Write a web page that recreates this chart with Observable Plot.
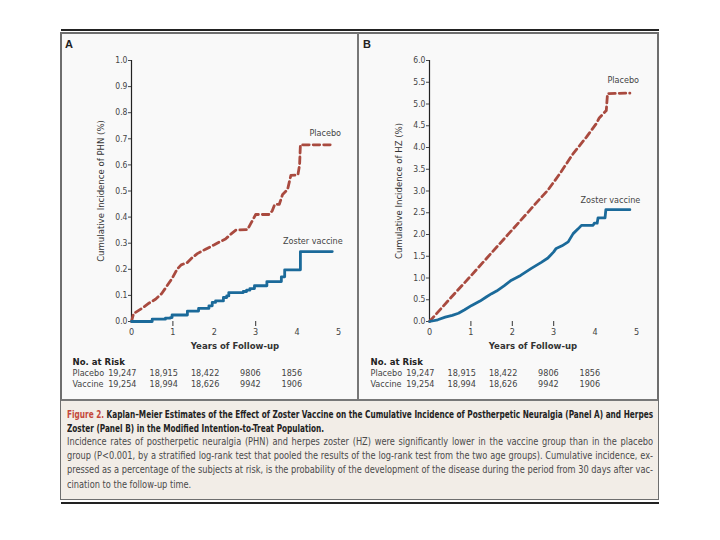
<!DOCTYPE html>
<html>
<head>
<meta charset="utf-8">
<script src="https://cdn.jsdelivr.net/npm/d3@7"></script>
<script src="https://cdn.jsdelivr.net/npm/@observablehq/plot@0.6"></script>
<style>
  html, body { margin: 0; padding: 0; background: #fff; width: 720px; height: 540px; overflow: hidden; }
  body { position: relative; font-family: "Liberation Sans Narrow", "DejaVu Sans Condensed", "Liberation Sans", sans-serif; }
  .abs { position: absolute; }
  #topline { left: 61px; top: 29px; width: 598px; height: 1.5px; background: #222; }
  #botline { left: 61px; top: 502px; width: 598px; height: 1.5px; background: #222; }
  #frame { left: 60px; top: 32px; width: 599px; height: 468px; box-sizing: border-box; border: 2px solid #6e6e6e; background: #f9f9f9; }
  #divider { left: 357px; top: 33px; width: 2px; height: 367px; background: #777; }
  #caption { left: 61px; top: 399px; width: 597px; height: 100px; box-sizing: border-box; border-top: 2px solid #777; background: #f2ede7; }
  .letter { font-family: "Liberation Sans", Arial, sans-serif; font-weight: bold; font-size: 11px; color: #222; }
  .cline { position: absolute; left: 67px; white-space: nowrap; text-align: justify; text-align-last: justify; font-size: 10.5px; line-height: 12px; transform-origin: 0 0; }
  .cline.last { text-align-last: left; }
  .title { font-weight: bold; color: #222; }
  .body { color: #4a4a4a; }
  .fig { color: #c4473a; }
  .panel { position: absolute; top: 34px; }
</style>
</head>
<body>
<div id="topline" class="abs"></div>
<div id="frame" class="abs"></div>
<div id="divider" class="abs"></div>
<div id="caption" class="abs"></div>
<div id="botline" class="abs"></div>
<div class="abs letter" style="left:65px; top:38px;">A</div>
<div class="abs letter" style="left:363px; top:38px;">B</div>
<div id="panelA" class="panel" style="left:62px;"></div>
<div id="panelB" class="panel" style="left:360px;"></div>
<div id="captext"></div>
<script>
// ---- Data ----
const years = [0, 1, 2, 3, 4, 5];
const tickMarksA = [1, 3];
const tickMarksB = [1, 2, 3];
const yTicksA = [0, 0.1, 0.2, 0.3, 0.4, 0.5, 0.6, 0.7, 0.8, 0.9, 1.0];
const yTicksB = [0, 0.5, 1.0, 1.5, 2.0, 2.5, 3.0, 3.5, 4.0, 4.5, 5.0, 5.5, 6.0];

// Panel A: PHN, placebo (dashed)
const placeboA_t = [0, 0.05, 0.25, 0.42, 0.58, 0.73, 0.86, 0.98, 1.1, 1.2, 1.35, 1.47, 1.59, 1.79, 1.99, 2.15, 2.27, 2.4, 2.52, 2.8, 2.88, 3.0, 3.32, 3.4, 3.46, 3.57, 3.65, 3.77, 3.85, 4.02, 4.06, 4.08, 4.85];
const placeboA_v = [0, 0.03, 0.05, 0.07, 0.085, 0.107, 0.137, 0.165, 0.2, 0.217, 0.226, 0.245, 0.26, 0.277, 0.293, 0.307, 0.316, 0.335, 0.35, 0.352, 0.375, 0.41, 0.41, 0.424, 0.449, 0.449, 0.487, 0.506, 0.56, 0.562, 0.60, 0.677, 0.677];
// Panel A: PHN, vaccine (solid, step)
const vaccineA_t = [0, 0.5, 0.82, 0.94, 0.98, 1.35, 1.62, 1.87, 1.95, 2.03, 2.22, 2.3, 2.35, 2.7, 2.78, 2.86, 2.97, 3.27, 3.62, 3.7, 4.08, 4.85];
const vaccineA_v = [0, 0.009, 0.013, 0.015, 0.025, 0.04, 0.05, 0.06, 0.073, 0.079, 0.092, 0.098, 0.111, 0.115, 0.12, 0.126, 0.137, 0.153, 0.171, 0.198, 0.268, 0.268];

// Panel B: HZ, placebo (dashed)
const placeboB_t = [0, 0.5, 1.0, 1.5, 2.0, 2.35, 2.6, 2.86, 3.15, 3.47, 3.79, 4.03, 4.1, 4.27, 4.3, 4.84];
const placeboB_v = [0, 0.53, 1.05, 1.58, 2.11, 2.48, 2.75, 3.02, 3.40, 3.86, 4.24, 4.55, 4.68, 4.85, 5.24, 5.25];
// Panel B: HZ, vaccine (solid)
const vaccineB_t = [0, 0.2, 0.38, 0.55, 0.7, 0.85, 1.02, 1.22, 1.38, 1.5, 1.62, 1.8, 1.98, 2.2, 2.46, 2.7, 2.86, 3.0, 3.06, 3.2, 3.35, 3.47, 3.59, 3.67, 3.95, 3.98, 4.05, 4.07, 4.24, 4.26, 4.84];
const vaccineB_v = [0, 0.04, 0.1, 0.14, 0.19, 0.27, 0.37, 0.47, 0.57, 0.64, 0.7, 0.82, 0.95, 1.06, 1.22, 1.36, 1.46, 1.6, 1.68, 1.74, 1.83, 2.02, 2.13, 2.21, 2.21, 2.26, 2.26, 2.38, 2.38, 2.57, 2.57];

// Number at risk
const riskYears = [0, 1, 2, 3, 4];
const riskPlacebo = ["19,247", "18,915", "18,422", "9806", "1856"];
const riskVaccine = ["19,254", "18,994", "18,626", "9942", "1906"];

// Series labels
const labelTextA = ["Placebo", "Zoster vaccine"];
const labelXA = [4.68, 4.38];
const labelYA = [0.722, 0.308];
const labelTextB = ["Placebo", "Zoster vaccine"];
const labelXB = [4.68, 4.37];
const labelYB = [5.54, 2.8];

const yLabelA = "Cumulative Incidence of PHN (%)";
const yLabelB = "Cumulative Incidence of HZ (%)";
const xLabel = "Years of Follow-up";

// ---- Styles ----
const PLACEBO = "#a94a3f";
const VACCINE = "#1b6a9a";
const FONT = "'Liberation Sans Narrow', 'DejaVu Sans Condensed', 'Liberation Sans', sans-serif";

const zip = (t, v) => t.map((x, i) => ({t: x, v: v[i]}));

function panel(cfg) {
  const riskRows = riskYears.map((y, i) => ({year: y, p: riskPlacebo[i], v: riskVaccine[i]}));
  const labels = cfg.labelText.map((s, i) => ({text: s, x: cfg.labelX[i], y: cfg.labelY[i]}));
  return Plot.plot({
    width: 296,
    height: 364,
    marginLeft: 69,
    marginRight: 20,
    marginTop: 26,
    marginBottom: 77,
    style: {fontFamily: FONT, fontSize: "8.5px", color: "#444", background: "transparent", overflow: "visible"},
    x: {domain: [0, 5]},
    y: {domain: cfg.yDomain},
    marks: [
      Plot.ruleX([0], {stroke: "#222", strokeWidth: 1.2}),
      Plot.axisY({ticks: cfg.yTicks, tickFormat: ".1f", tickSize: 3, tickPadding: 1, label: null, stroke: "#444"}),
      Plot.axisX({ticks: years, tickFormat: "d", tickSize: 0, tickPadding: 7, label: null, fontSize: 9}),
      Plot.axisX({ticks: cfg.tickMarks, tickSize: 5, tickFormat: () => "", label: null, stroke: "#333"}),
      Plot.text([cfg.yLabel], {frameAnchor: "left", textAnchor: "middle", rotate: -90, dx: -31, fontSize: 9.5, fill: "#333"}),
      Plot.text([xLabel], {frameAnchor: "bottom", dy: 27, fontWeight: "bold", fontSize: 9.5, fill: "#333"}),
      Plot.line(zip(cfg.pt, cfg.pv), {x: "t", y: "v", curve: "linear", stroke: PLACEBO, strokeWidth: 2.8, strokeDasharray: "6.5,4"}),
      Plot.line(zip(cfg.vt, cfg.vv), {x: "t", y: "v", curve: cfg.vCurve, stroke: VACCINE, strokeWidth: 2.8}),
      Plot.text(labels, {x: "x", y: "y", text: "text", fontSize: 9, fill: "#444"}),
      Plot.text(["No. at Risk"], {frameAnchor: "bottom-left", dx: -59, dy: 43, textAnchor: "start", fontWeight: "bold", fontSize: 9.5, fill: "#222"}),
      Plot.text(["Placebo"], {frameAnchor: "bottom-left", dx: -59, dy: 54, textAnchor: "start", fontSize: 9, fill: "#444"}),
      Plot.text(["Vaccine"], {frameAnchor: "bottom-left", dx: -59, dy: 65, textAnchor: "start", fontSize: 9, fill: "#444"}),
      Plot.text(riskRows, {x: "year", text: "p", frameAnchor: "bottom", dx: 5, dy: 54, textAnchor: "end", fontSize: 9, fill: "#444"}),
      Plot.text(riskRows, {x: "year", text: "v", frameAnchor: "bottom", dx: 5, dy: 65, textAnchor: "end", fontSize: 9, fill: "#444"})
    ]
  });
}

document.getElementById("panelA").append(panel({
  yDomain: [0, 1], yTicks: yTicksA, tickMarks: tickMarksA, yLabel: yLabelA,
  pt: placeboA_t, pv: placeboA_v, vt: vaccineA_t, vv: vaccineA_v, vCurve: "step-after",
  labelText: labelTextA, labelX: labelXA, labelY: labelYA
}));
document.getElementById("panelB").append(panel({
  yDomain: [0, 6], yTicks: yTicksB, tickMarks: tickMarksB, yLabel: yLabelB,
  pt: placeboB_t, pv: placeboB_v, vt: vaccineB_t, vv: vaccineB_v, vCurve: "linear",
  labelText: labelTextB, labelX: labelXB, labelY: labelYB
}));

// Caption
const captionTitle = [
  "Kaplan\u2013Meier Estimates of the Effect of Zoster Vaccine on the Cumulative Incidence of Postherpetic Neuralgia (Panel A) and Herpes",
  "Zoster (Panel B) in the Modified Intention-to-Treat Population."
];
const captionBody = [
  "Incidence rates of postherpetic neuralgia (PHN) and herpes zoster (HZ) were significantly lower in the vaccine group than in the placebo",
  "group (P<0.001, by a stratified log-rank test that pooled the results of the log-rank test from the two age groups). Cumulative incidence, ex-",
  "pressed as a percentage of the subjects at risk, is the probability of the development of the disease during the period from 30 days after vac-",
  "cination to the follow-up time."
];
const esc = s => s.replace(/&/g, "&amp;").replace(/</g, "&lt;");
const cap = document.getElementById("captext");
const FULL = 586;
function paragraph(lines, cls, tops) {
  const divs = lines.map((html, i) => {
    const d = document.createElement("div");
    d.className = "cline " + cls + (i === lines.length - 1 ? " last" : "");
    d.style.top = tops[i] + "px";
    const s = document.createElement("span");
    s.innerHTML = html;
    d.appendChild(s);
    cap.appendChild(d);
    return {d, s};
  });
  const maxW = Math.max(...divs.slice(0, -1).map(o => o.s.getBoundingClientRect().width));
  const k = Math.min(1, FULL / maxW);
  divs.forEach(o => {
    o.d.style.width = (FULL / k) + "px";
    o.d.style.transform = `scaleX(${k})`;
  });
}
paragraph(['<span class="fig">Figure 2.</span> ' + esc(captionTitle[0]), esc(captionTitle[1])], "title", [408, 422]);
paragraph(captionBody.map(esc), "body", [435, 449, 463, 478]);
</script>
</body>
</html>
